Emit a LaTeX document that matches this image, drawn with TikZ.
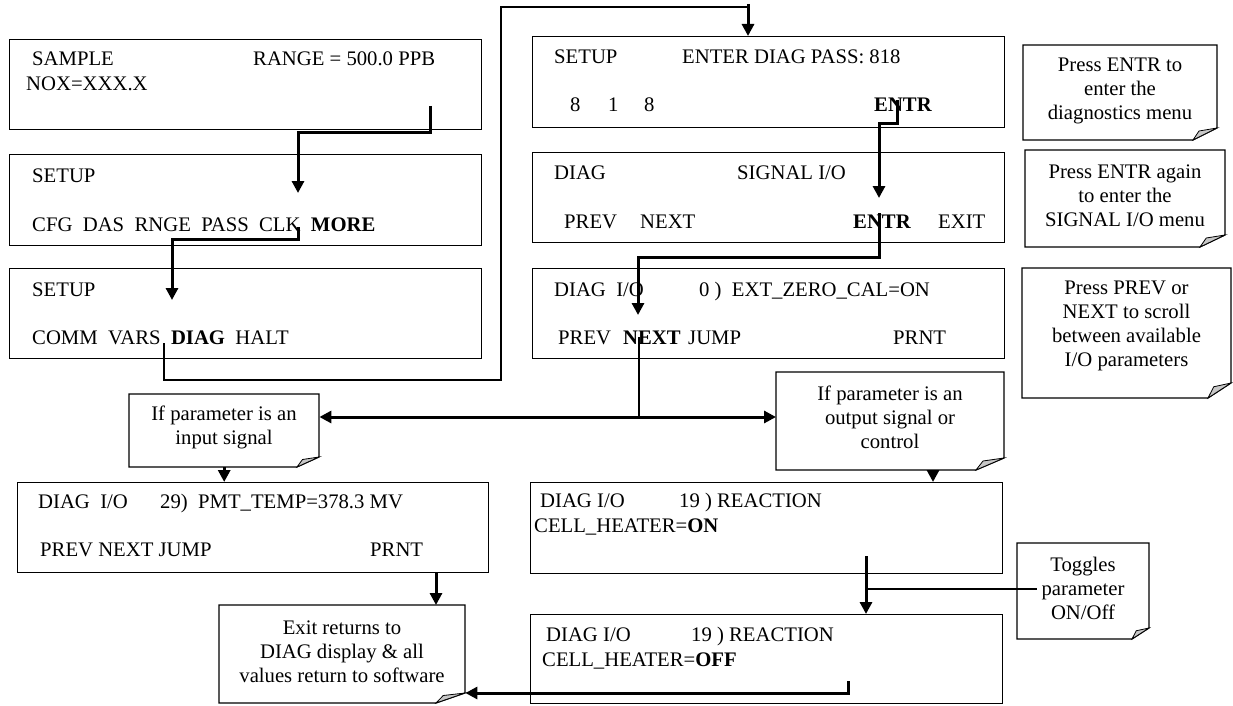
\documentclass[tikz,border=0pt]{standalone}
\usepackage{fontspec}
\setmainfont{Liberation Serif}
\usetikzlibrary{arrows.meta,calc}
\newcommand{\scrbox}[5]{%
  \node[scr, minimum width={(#4-#2)*1pt}, minimum height={(#5-#3)*1pt}] (#1) at (#2,#3) {};}
\newcommand{\foldnote}[9]{%
  \node[inner sep=0pt, anchor=north west, minimum width={(#4-#2)*1pt}, minimum height={(#5-#3)*1pt}] (#1) at (#2,#3) {};
  \draw[notebd] (#2,#3) -- (#4,#3) -- (#4,#5-#7) -- (#4-#6,#5) -- (#2,#5) -- cycle;
  \draw[foldst] (#4-#6,#5) -- (#4,#5-#7) -- (#4-#6+0.25*#6,#5-0.75*#7) -- cycle;
  \node[ntxt] (#1-t) at ({(#2+#4)/2},#8) {#9};}
\begin{document}
\begin{tikzpicture}[x=1pt,y=-1pt,
  scr/.style={draw, line width=1.2pt, rectangle, inner sep=0pt, anchor=north west},
  txt/.style={anchor=base west, inner sep=0pt, font=\fontsize{20.7}{24.5}\selectfont},
  ntxt/.style={align=center, inner sep=0pt, font=\fontsize{20.7}{24}\selectfont},
  notebd/.style={draw, line width=1.2pt, line join=miter},
  foldst/.style={draw, line width=0.8pt, fill=black!22},
  thk/.style={line width=3pt, -{Triangle[width=12pt,length=12pt]}},
  dbl/.style={line width=3pt, {Triangle[width=12pt,length=12pt]}-{Triangle[width=12pt,length=12pt]}},
  thn/.style={line width=1.2pt}]
\fill[white] (0,0) rectangle (1233,706);
\useasboundingbox (0,0) rectangle (1233,706);

% ---------- left column ----------
\scrbox{bA}{9}{39}{481}{129}
\node[txt] (tA1) at (32,66) {SAMPLE};
\node[txt] (tA2) at (253,66) {RANGE = 500.0 PPB};
\node[txt] (tA3) at (26,91) {NOX=XXX.X};

\scrbox{bB}{9}{154}{481}{245}
\node[txt] (tB1) at (32,182) {SETUP};
\node[txt] (tB2) at (32,231) {CFG\ \ DAS\ \ RNGE\ \ PASS\ \ CLK\ \ \textbf{MORE}};

\scrbox{bC}{9}{268}{481}{358}
\node[txt] (tC1) at (32,296) {SETUP};
\node[txt] (tC2) at (32,344) {COMM\ \ VARS\ \ \textbf{DIAG}\ \ HALT};

% ---------- right column ----------
\scrbox{r1}{532}{36}{1004}{127}
\node[txt] (t11) at (554,64) {SETUP};
\node[txt] (t12) at (682,64) {ENTER DIAG PASS: 818};
\node[txt] (t13) at (570,112) {8};
\node[txt] (t14) at (608,112) {1};
\node[txt] (t15) at (644,112) {8};
\node[txt] (t16) at (874,112) {\textbf{ENTR}};

\scrbox{r2}{532}{152}{1004}{242}
\node[txt] (t21) at (554,179) {DIAG};
\node[txt] (t22) at (737,179) {SIGNAL I/O};
\node[txt] (t23) at (564,228) {PREV};
\node[txt] (t24) at (640,228) {NEXT};
\node[txt] (t25) at (853,228) {\textbf{ENTR}};
\node[txt] (t26) at (938,228) {EXIT};

\scrbox{r3}{532}{268}{1004}{358}
\node[txt] (t31) at (554,296) {DIAG\ \ I/O};
\node[txt] (t32) at (699,296) {0 )\ \ EXT\_ZERO\_CAL=ON};
\node[txt] (t33) at (558,344) {PREV};
\node[txt] (t34) at (623,344) {\textbf{NEXT}};
\node[txt] (t35) at (688,344) {JUMP};
\node[txt] (t36) at (893,344) {PRNT};

% ---------- notes ----------
\foldnote{n1}{1023}{45}{1217}{140}{24}{12}{91}{Press ENTR to\\enter the\\diagnostics menu}
\foldnote{n2}{1025}{150}{1225}{247}{25}{12}{196}{Press ENTR again\\to enter the\\SIGNAL I/O menu}
\foldnote{n3}{1022}{268}{1231}{398}{23}{15}{326}{Press PREV or\\NEXT to scroll\\between available\\I/O parameters}
\foldnote{nin}{129}{394}{319}{467}{22}{10}{427}{If parameter is an\\input signal}
\foldnote{nout}{776}{372}{1004}{470}{28}{12}{417}{If parameter is an\\output signal or\\control}
\foldnote{ntog}{1017}{543}{1149}{639}{17}{11}{588}{Toggles\\parameter\\ON/Off}
\foldnote{nexit}{219}{605}{465}{703}{29}{10}{652}{Exit returns to\\DIAG display \& all\\values return to software}

% ---------- bottom boxes ----------
\scrbox{pmt}{17}{482}{488}{572}
\node[txt] (tp1) at (38,508) {DIAG\ \ I/O};
\node[txt] (tp2) at (160,508) {29)\ \ PMT\_TEMP=378.3 MV};
\node[txt] (tp3) at (40,556) {PREV NEXT JUMP};
\node[txt] (tp4) at (370,556) {PRNT};

\scrbox{on}{530}{482}{1002}{573}
\node[txt] (to1) at (540,507) {DIAG I/O};
\node[txt] (to2) at (679,507) {19 ) REACTION};
\node[txt] (to3) at (534,532) {CELL\_HEATER=\textbf{ON}};

\scrbox{off}{530}{614}{1002}{703}
\node[txt] (tf1) at (546,641) {DIAG I/O};
\node[txt] (tf2) at (691,641) {19 ) REACTION};
\node[txt] (tf3) at (542,666) {CELL\_HEATER=\textbf{OFF}};

% ---------- connectors ----------
\coordinate (a1) at (430,106);
\coordinate (a1t) at (298,193);
\draw[thk] (a1) -- ++(0,26) -| (a1t);

\coordinate (a2) at (298,227);
\coordinate (a2t) at (172,300);
\draw[thk] (a2) -- ++(0,12) -| (a2t);

\coordinate (a3) at (164,343);
\coordinate (a3e) at (748,7);
\draw[thn] (a3) -- ++(0,37) -- ++(337,0) |- (a3e);
\draw[thk] ($(a3e)+(0,-3)$) -- (r1.north -| a3e);

\coordinate (a4) at (897,100);
\coordinate (a4t) at (879,198);
\draw[thk] (a4) -- ++(0,24) -| (a4t);

\coordinate (a5) at (879,213);
\coordinate (a5t) at (638,315);
\draw[thk] (a5) -- ++(0,44) -| (a5t);

\coordinate (a6) at (639,337);
\coordinate (dj) at (639,417);
\draw[thn] (a6) -- (dj);
\draw[dbl] (nin.east |- dj) -- (nout.west |- dj);

\draw[thk] (nin.south) -- (pmt.north -| nin.south);

\coordinate (c933) at (933,470);
\draw[thk] (nout.south -| c933) -- (on.north -| c933);

\coordinate (c436) at (436,572);
\draw[thk] (pmt.south -| c436) -- (nexit.north -| c436);

\coordinate (a7) at (866,556);
\draw[thk] (a7) -- (off.north -| a7);

\coordinate (a8) at (866,589);
\coordinate (a8e) at (1037,589);
\draw[thn] (a8) -- (a8e);

\coordinate (a9) at (848,681);
\coordinate (a9b) at (848,693);
\draw[thk] (a9) -- (a9b) -- (a9b -| nexit.east);
\end{tikzpicture}
\end{document}
